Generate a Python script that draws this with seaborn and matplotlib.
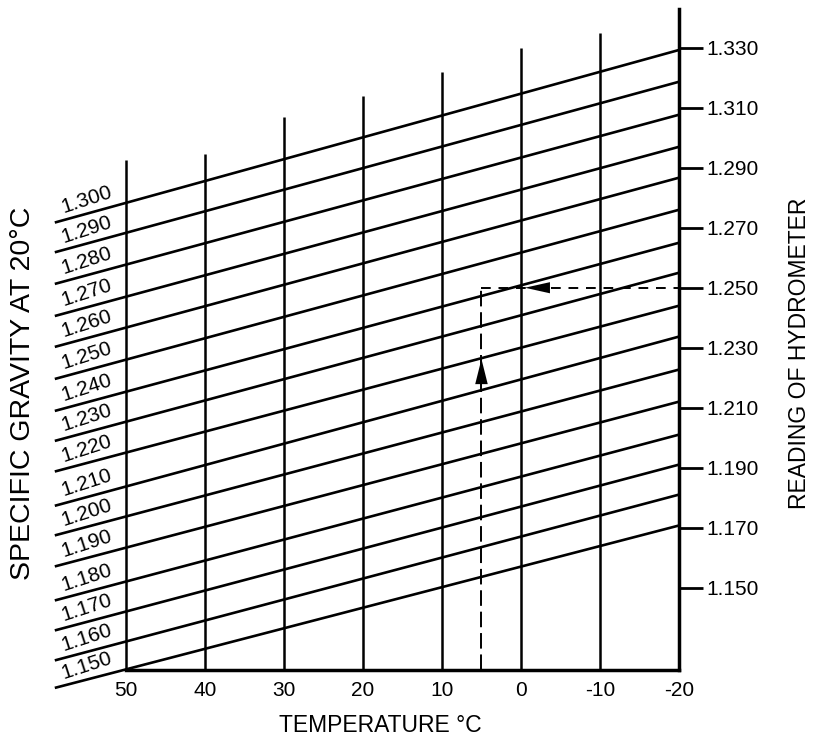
import matplotlib
matplotlib.use("Agg")
import matplotlib.pyplot as plt
import numpy as np
import pandas as pd
import seaborn as sns

sg_labels = ["1.300", "1.290", "1.280", "1.270", "1.260", "1.250", "1.240", "1.230",
             "1.220", "1.210", "1.200", "1.190", "1.180", "1.170", "1.160", "1.150"]
# hydrometer reading where each specific-gravity line meets the 50 °C line
reading_at_50 = [1.2783, 1.2683, 1.2577, 1.2470, 1.2367, 1.2260, 1.2153, 1.2053,
                 1.1950, 1.1837, 1.1737, 1.1633, 1.1520, 1.1420, 1.1320, 1.1227]
# hydrometer reading where each line meets the -20 °C axis
reading_at_m20 = [1.3293, 1.3187, 1.3077, 1.2970, 1.2867, 1.2760, 1.2650, 1.2550,
                  1.2440, 1.2337, 1.2227, 1.2120, 1.2010, 1.1910, 1.1810, 1.1707]
line_start_temp = 59          # lines continue left of the 50 °C line under their labels
label_temp = 55

temps = [50, 40, 30, 20, 10, 0, -10, -20]
temp_labels = ["50", "40", "30", "20", "10", "0", "-10", "-20"]
# top ends of the vertical temperature lines (in reading units)
vline_tops = [1.2927, 1.2947, 1.3070, 1.3140, 1.3220, 1.3300, 1.3350, 1.3430]

hyd_ticks = [1.330, 1.310, 1.290, 1.270, 1.250, 1.230, 1.210, 1.190, 1.170, 1.150]
hyd_labels = ["1.330", "1.310", "1.290", "1.270", "1.250", "1.230", "1.210",
              "1.190", "1.170", "1.150"]

# worked example (dashed path with arrows)
example_temp = 5
example_reading = 1.250
up_arrow = (1.2262, 1.2150)     # tip / tail readings at example_temp
left_arrow = (-0.5, -4.5)       # tip / tail temperatures at example_reading

y_bottom, y_top = 1.1225, 1.3433
x_left, x_right = 61, -20

# ---------------- build table ----------------
rows = []
for lab, r50, rm20 in zip(sg_labels, reading_at_50, reading_at_m20):
    s = (rm20 - r50) / (50 - (-20))
    r_start = r50 - (line_start_temp - 50) * s
    for t, r in ((line_start_temp, r_start), (50, r50), (-20, rm20)):
        rows.append({"sg": lab, "temp": t, "reading": r})
df = pd.DataFrame(rows)

# ---------------- style ----------------
sns.set_theme(style="white")
plt.rcParams["font.family"] = ["Liberation Sans", "DejaVu Sans"]
plt.rcParams["axes.edgecolor"] = "black"
plt.rcParams["text.color"] = "black"
plt.rcParams["xtick.color"] = "black"
plt.rcParams["ytick.color"] = "black"

fig = plt.figure(figsize=(8.16, 7.42), dpi=100)
ax = fig.add_axes([39 / 816, 72 / 742, 640 / 816, 662 / 742])

sns.lineplot(data=df, x="temp", y="reading", units="sg", estimator=None,
             sort=False, color="black", linewidth=1.9, legend=False, ax=ax)
for ln in ax.lines:
    ln.set_clip_on(False)
    ln.set_solid_capstyle("butt")

# vertical temperature lines
ax.vlines(temps[:-1], y_bottom, vline_tops[:-1], color="black", linewidth=1.8)

# labels of the specific-gravity lines
for lab, r50, rm20 in zip(sg_labels, reading_at_50, reading_at_m20):
    s = (rm20 - r50) / 70
    r_lab = r50 - (label_temp - 50) * s
    ax.annotate(lab, xy=(label_temp, r_lab), xytext=(0, 10.3),
                textcoords="offset points", rotation=18, rotation_mode="anchor",
                ha="center", va="center", fontsize=15, annotation_clip=False)

# worked example
ax.plot([example_temp, example_temp], [y_bottom, example_reading], color="black",
        linewidth=1.4, dashes=(8, 3))
ax.plot([example_temp, x_right], [example_reading, example_reading], color="black",
        linewidth=1.4, dashes=(5, 4))
ax.annotate("", xy=(example_temp, up_arrow[0]), xytext=(example_temp, up_arrow[1]),
            arrowprops=dict(arrowstyle="-|>,head_length=1.8,head_width=0.45",
                            mutation_scale=10, lw=0.01, color="black",
                            shrinkA=0, shrinkB=0))
ax.annotate("", xy=(left_arrow[0], example_reading), xytext=(left_arrow[1], example_reading),
            arrowprops=dict(arrowstyle="-|>,head_length=1.8,head_width=0.4",
                            mutation_scale=10, lw=0.01, color="black",
                            shrinkA=0, shrinkB=0))

# axes
ax.set_xlim(x_left, x_right)
ax.set_ylim(y_bottom, y_top)
ax.set_xlabel("")
ax.set_ylabel("")
for side in ("left", "top"):
    ax.spines[side].set_visible(False)
ax.spines["bottom"].set_bounds(-20, 50)
ax.spines["bottom"].set_linewidth(2.5)
ax.spines["right"].set_bounds(y_bottom, vline_tops[-1])
ax.spines["right"].set_linewidth(2.5)

ax.set_xticks(temps)
ax.set_xticklabels(temp_labels, fontsize=15)
ax.tick_params(axis="x", length=0, pad=8, bottom=True, top=False)

ax.yaxis.tick_right()
ax.set_yticks(hyd_ticks)
ax.set_yticklabels(hyd_labels, fontsize=15)
ax.tick_params(axis="y", direction="out", length=17, width=2.0, pad=3,
               right=True, left=False, labelright=True, labelleft=False)

fig.text(380 / 816, 1 - 725 / 742, "TEMPERATURE °C", ha="center", va="center",
         fontsize=16.5)
fig.text(23 / 816, 1 - 393 / 742, "SPECIFIC GRAVITY AT 20°C", ha="center",
         va="center", rotation=90, fontsize=20.5)
fig.text(800 / 816, 1 - 353 / 742, "READING OF HYDROMETER", ha="center",
         va="center", rotation=90, fontsize=16.5)

fig.savefig("out.png", dpi=100, facecolor="white")
